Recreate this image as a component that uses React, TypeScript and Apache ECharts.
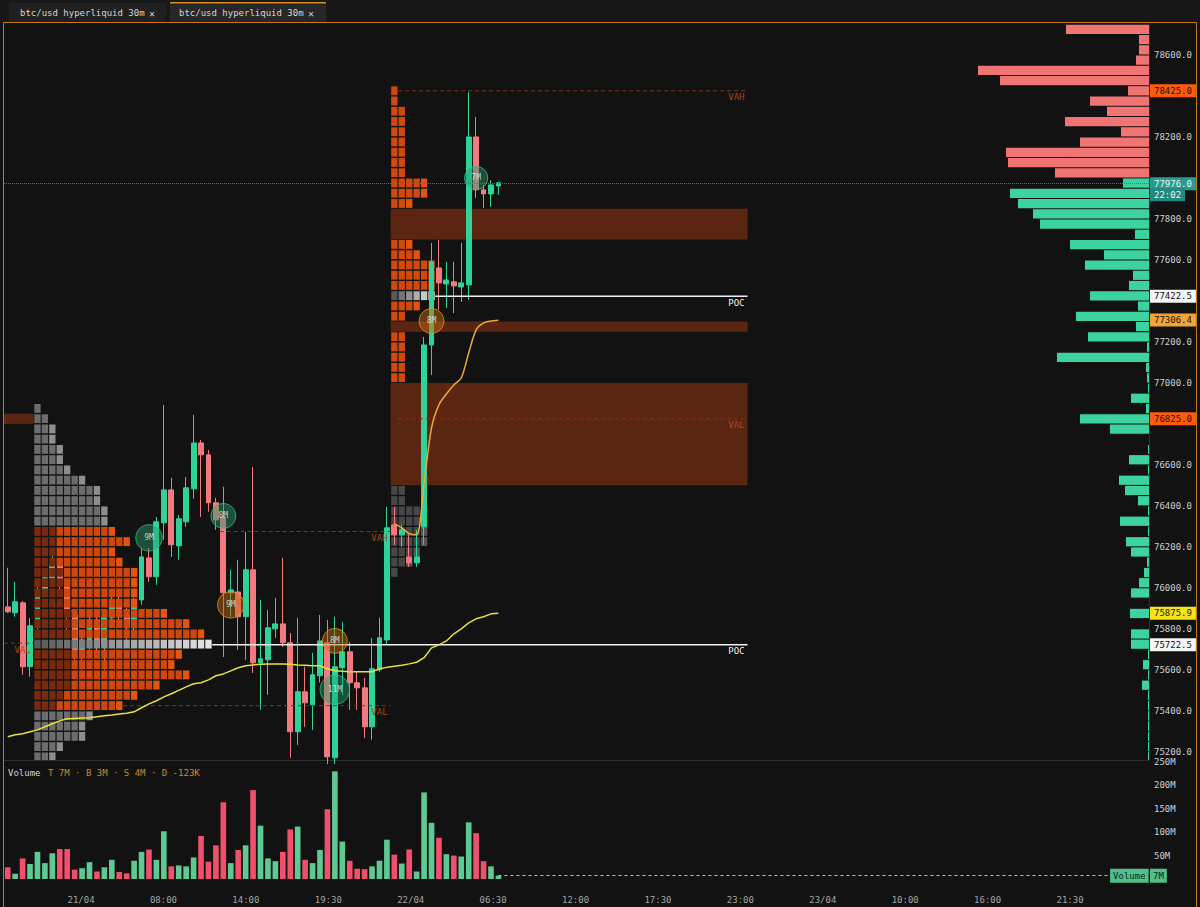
import { useEffect, useRef } from 'react';
import * as echarts from 'echarts';

const FONT = '"DejaVu Sans Mono", "Liberation Mono", monospace';

const SLOT_COUNT = 154;
const PRICE_MIN = 75160;
const PRICE_MAX = 78756;
const ROW_STEP = 50;

// price ticks that are not hidden behind a price tag
const priceTicks = [75200, 75400, 75600, 75800, 76000, 76200, 76400, 76600, 77000, 77200, 77600, 77800, 78200, 78600];

const timeLabels = ['21/04', '08:00', '14:00', '19:30', '22/04', '06:30', '12:00', '17:30', '23:00', '23/04', '10:00', '16:00', '21:30'];
const timeLabelFirstSlot = 9.86;
const timeLabelStep = 11.085;

// [open, close, low, high]
const candles = [
  [75907, 75883, 75878, 76098], [75878, 75932, 75859, 76029], [75927, 75615, 75576, 75935], [75615, 75815, 75566, 75854],
  [75815, 75990, 75800, 76015], [75990, 76049, 75966, 76088], [76049, 76112, 76029, 76161], [76112, 76015, 75990, 76137],
  [76015, 75868, 75780, 76039], [75868, 75698, 75649, 75893], [75698, 75746, 75600, 75795], [75746, 75844, 75698, 75893],
  [75844, 75722, 75673, 75868], [75722, 75854, 75600, 75893], [75854, 75941, 75820, 75966], [75941, 75868, 75844, 75980],
  [75868, 75805, 75746, 75902], [75805, 75941, 75785, 75951], [75941, 76151, 75917, 76195], [76146, 76054, 76029, 76195],
  [76054, 76322, 76015, 76346], [76317, 76478, 76234, 76893], [76478, 76210, 76151, 76537], [76205, 76337, 76137, 76356],
  [76322, 76488, 76298, 76541], [76483, 76707, 76434, 76844], [76707, 76649, 76346, 76722], [76649, 76415, 76371, 76673],
  [76415, 76332, 76283, 76439], [76346, 75976, 75663, 76493], [75976, 75990, 75859, 76088], [75980, 75859, 75698, 76137],
  [75859, 76088, 75649, 76273], [76088, 75634, 75585, 76590], [75634, 75654, 75405, 75941], [75649, 75805, 75478, 75893],
  [75800, 75824, 75756, 75951], [75824, 75732, 75712, 76146], [75732, 75298, 75171, 75780], [75298, 75493, 75234, 75854],
  [75493, 75439, 75322, 75615], [75429, 75576, 75307, 75683], [75571, 75741, 75537, 75868], [75732, 75176, 75140, 75844],
  [75171, 75615, 75140, 75859], [75610, 75688, 75478, 75834], [75688, 75537, 75405, 75737], [75537, 75512, 75405, 75590],
  [75512, 75322, 75268, 75561], [75322, 75605, 75259, 75756], [75600, 75756, 75590, 75854], [75746, 76293, 75722, 76395],
  [76307, 76259, 76210, 76395], [76259, 76283, 76200, 76307], [76151, 76122, 76102, 76259], [76122, 76151, 76102, 76283],
  [76298, 77185, 76210, 77224], [77185, 77590, 77039, 77683], [77561, 77488, 77356, 77698], [77483, 77502, 77366, 77590],
  [77493, 77473, 77341, 77590], [77468, 77488, 77395, 77683], [77478, 78200, 77405, 78420], [78200, 77942, 77902, 78298],
  [77942, 77922, 77854, 77966], [77922, 77966, 77859, 77990], [77961, 77976, 77917, 77981],
];

const volumesM = [
  25, 11, 44, 32, 58, 34, 55, 64, 64, 20, 23, 36, 16, 25, 41, 15, 12, 39, 58, 63,
  41, 102, 27, 29, 27, 46, 92, 37, 72, 164, 34, 62, 72, 190, 114, 44, 38, 58, 106, 112,
  41, 34, 62, 149, 230, 80, 39, 22, 21, 27, 39, 84, 52, 33, 63, 16, 185, 120, 88, 53,
  50, 48, 121, 98, 38, 27, 7,
];

const vwapDay1 = [
  75273, 75283, 75288, 75298, 75307, 75322, 75337, 75351, 75361, 75363, 75365, 75366, 75371, 75376, 75380, 75385,
  75388, 75395, 75415, 75434, 75449, 75468, 75483, 75500, 75517, 75532, 75537, 75551, 75571, 75580, 75595, 75610,
  75620, 75624, 75627, 75629, 75629, 75629, 75627, 75624, 75622, 75620, 75620, 75605, 75595, 75593, 75590, 75590,
  75590, 75590, 75605, 75612, 75617, 75622, 75629, 75637, 75659, 75707, 75722, 75741, 75776, 75800, 75829, 75849,
  75859, 75873, 75876,
];
const vwapDay2Start = 52;
const vwapDay2 = [76312, 76293, 76264, 76259, 76512, 76780, 76893, 76946, 76990, 77024, 77146, 77259, 77293, 77302, 77306];

// volume profile 1 (rows of 50 from the top price downwards)
const profile1Top = 76900;
const profile1StartBar = 4;
const profile1Vah = 76275;
const profile1Val = 75425;
const profile1Poc = 75722.5;
const profile1Counts = [1, 2, 3, 3, 4, 4, 5, 7, 9, 9, 10, 10, 11, 13, 11, 12, 14, 14, 14, 14, 18, 21, 23, 24, 20, 19, 21, 17, 14, 12, 8, 7, 7, 4, 3];

// volume profile 2
const profile2Top = 78450;
const profile2StartBar = 52;
const profile2Vah = 78425;
const profile2Val = 76825;
const profile2Poc = 77422.5;
const profile2Counts = [1, 1, 2, 2, 2, 2, 2, 2, 2, 5, 5, 3, 2, 2, 2, 3, 4, 6, 6, 6, 6, 4, 2, 2, 2, 2, 2, 2, 2, 1, 1, 1, 1, 1, 1, 1, 1, 1, 1, 2, 2, 5, 5, 5, 5, 4, 3, 1];

// zones: [fromBar, toBar, low, high]
const zones = [
  [0, 4, 76800, 76850],
  [52, 100, 77700, 77850],
  [52, 100, 77250, 77300],
  [52, 100, 76500, 77000],
];

// level lines: [fromBar, toBar, price, name]
const levelLines: [number, number, number, string][] = [
  [0, 4, 75730, 'VAL'],
  [28, 100, 75722.5, 'POC'],
  [58, 100, 77422.5, 'POC'],
  [53, 100, 78425, 'VAH'],
  [53, 100, 76825, 'VAL'],
  [29, 52, 76275, 'VAH'],
  [16, 52, 75425, 'VAL'],
];

// big trades: [bar, price, sizeM, side]
const bubbles: [number, number, number, string][] = [
  [19, 76244, 9, 'buy'],
  [29, 76351, 8, 'buy'],
  [30, 75917, 9, 'sell'],
  [44, 75741, 8, 'sell'],
  [44, 75503, 11, 'buy'],
  [57, 77302, 8, 'sell'],
  [63, 78000, 7, 'buy'],
];

// session volume profile on the right, rows of 50 from 78750 downward
const rightProfileTop = 78750;
const rightProfileVol = [
  83, 10, 10, 13, 171, 149, 21, 59, 42, 84, 28, 69, 143, 141, 94,
  26, 139, 131, 116, 109, 14, 79, 45, 64, 16, 20, 59, 11, 73, 13, 61, 2, 92, 3, 2,
  1, 18, 3, 69, 39, 0, 1, 20, 1, 30, 24, 11, 1, 29, 1, 23, 18, 2, 5, 10,
  18, 0, 19, 0, 18, 18, 1, 6, 1, 7, 1, 1, 1, 1, 1, 1, 1,
];
const RIGHT_PROFILE_AXIS_MAX = 1145;

const lastPrice = 77976;
const countdown = '22:02';
// [price, kind]
const priceTags: [number, string][] = [
  [78425, 'va'],
  [77422.5, 'poc'],
  [77306.4, 'vwap2'],
  [76825, 'va'],
  [75875.9, 'vwap1'],
  [75722.5, 'poc'],
];

const volumeSummary = 'T 7M · B 3M · S 4M · D -123K';
const lastVolumeM = 7;
const tabTitles = ['btc/usd hyperliquid 30m', 'btc/usd hyperliquid 30m'];

const TAG_STYLE: Record<string, { bg: string; fg: string }> = {
  va: { bg: '#ff5b0f', fg: '#2a1000' },
  poc: { bg: '#f4f4f4', fg: '#111111' },
  vwap2: { bg: '#f2a43a', fg: '#1e1200' },
  vwap1: { bg: '#f3e21c', fg: '#1e1a00' },
};

const UP = '#2ed39a';
const DOWN = '#f27a7e';
const CLEAR = 'rgba(0,0,0,0)';

function mixColor(a: string, b: string, t: number) {
  const pa = [1, 3, 5].map((i) => parseInt(a.slice(i, i + 2), 16));
  const pb = [1, 3, 5].map((i) => parseInt(b.slice(i, i + 2), 16));
  const c = pa.map((v, k) => Math.round(v + (pb[k] - v) * t));
  return `rgb(${c[0]},${c[1]},${c[2]})`;
}

type ProfilePalette = { va: string; vaDark: string; vaEdge: string; out: string; outEdge: string; darkFrac: number };

function profileSquares(counts: number[], top: number, startBar: number, vah: number, val: number, poc: number, pal: ProfilePalette) {
  const out: any[] = [];
  counts.forEach((n, r) => {
    const hi = top - r * ROW_STEP;
    const lo = hi - ROW_STEP;
    const mid = hi - ROW_STEP / 2;
    const isPoc = poc >= lo && poc < hi;
    const inVa = mid <= vah + ROW_STEP / 2 && mid >= val - ROW_STEP / 2;
    const dark = Math.min(5, Math.floor(n * pal.darkFrac));
    for (let c = 0; c < n; c++) {
      let color: string;
      if (isPoc) color = mixColor('#5a5a5a', '#e4e4e4', n > 1 ? c / (n - 1) : 1);
      else if (inVa) color = c === n - 1 && n > 2 ? pal.vaEdge : c < dark ? pal.vaDark : pal.va;
      else color = c === n - 1 && n > 2 ? pal.outEdge : pal.out;
      out.push({ value: [startBar + c, hi], itemStyle: { color } });
    }
  });
  return out;
}

const squareRender = (params: any, api: any) => {
  const bw = api.size([1, 0])[0];
  const rh = api.size([0, ROW_STEP])[1];
  const p = api.coord([api.value(0), api.value(1)]);
  const w = bw - 1.1;
  const rect = echarts.graphic.clipRectByRect(
    { x: p[0] - w / 2, y: p[1] + 0.6, width: w, height: rh - 1.4 },
    params.coordSys
  );
  if (!rect) return null;
  return { type: 'rect', shape: rect, style: { fill: api.visual('color') }, silent: true };
};

function buildOption() {
  const slots = Array.from({ length: SLOT_COUNT }, (_, i) => String(i));
  const vwap2Full = candles.map((_, i) => (i >= vwapDay2Start ? vwapDay2[i - vwapDay2Start] : null));

  const sq1 = profileSquares(profile1Counts, profile1Top, profile1StartBar, profile1Vah, profile1Val, profile1Poc, {
    va: '#cf470e', vaDark: '#7a2a0c', vaEdge: '#e6540f', out: '#6c6c6c', outEdge: '#8e8e8e', darkFrac: 0.3,
  });
  const sq2 = profileSquares(profile2Counts, profile2Top, profile2StartBar, profile2Vah, profile2Val, profile2Poc, {
    va: '#d2480d', vaDark: '#b83e0c', vaEdge: '#e4530f', out: '#474747', outEdge: '#555555', darkFrac: 0.0,
  });

  const labelFont = { fontFamily: FONT, fontSize: 9 };

  return {
    animation: false,
    backgroundColor: '#121212',
    grid: [
      { left: 4, right: 51, top: 23, height: 737, outerBoundsMode: 'none', containLabel: false },
      { left: 4, right: 51, top: 762, height: 117, outerBoundsMode: 'none', containLabel: false },
    ],
    xAxis: [
      {
        type: 'category', gridIndex: 0, data: slots, boundaryGap: true,
        axisLine: { show: true, lineStyle: { color: '#2e2e2e' } }, axisTick: { show: false }, axisLabel: { show: false }, splitLine: { show: false },
      },
      {
        type: 'category', gridIndex: 1, data: slots, boundaryGap: true, position: 'top',
        axisLine: { show: false }, axisTick: { show: false }, axisLabel: { show: false }, splitLine: { show: false },
      },
      {
        type: 'value', gridIndex: 0, inverse: true, min: 0, max: RIGHT_PROFILE_AXIS_MAX, position: 'top', show: false,
      },
      {
        type: 'value', gridIndex: 1, min: -0.5, max: SLOT_COUNT - 0.5, position: 'bottom',
        axisLine: { show: false }, axisTick: { show: false }, splitLine: { show: false },
        axisLabel: {
          color: '#a4a4a4', ...labelFont, margin: 16,
          customValues: timeLabels.map((_, k) => timeLabelFirstSlot + k * timeLabelStep),
          formatter: (v: number) => timeLabels[Math.round((v - timeLabelFirstSlot) / timeLabelStep)] ?? '',
        },
      },
    ],
    yAxis: [
      {
        type: 'value', gridIndex: 0, position: 'right', min: PRICE_MIN, max: PRICE_MAX,
        axisLine: { show: true, lineStyle: { color: '#2e2e2e' } }, axisTick: { show: false }, splitLine: { show: false },
        axisLabel: { color: '#cfcfcf', ...labelFont, margin: 5, customValues: priceTicks, formatter: (v: number) => v.toFixed(1) },
      },
      {
        type: 'value', gridIndex: 1, position: 'right', min: 0, max: 250, interval: 50,
        axisLine: { show: false }, axisTick: { show: false }, splitLine: { show: false },
        axisLabel: { color: '#cfcfcf', ...labelFont, margin: 5, formatter: (v: number) => (v === 0 ? '' : v + 'M') },
      },
    ],
    graphic: [
      { type: 'rect', left: 0, top: 0, shape: { width: 1200, height: 22 }, style: { fill: '#171717' }, z: 100 },
      { type: 'rect', shape: { x: 9, y: 3, width: 157, height: 19 }, style: { fill: '#202020' }, z: 101 },
      { type: 'text', x: 20, y: 13, style: { text: tabTitles[0], fill: '#d6d6d6', font: `9px ${FONT}`, verticalAlign: 'middle' }, z: 102 },
      { type: 'text', x: 152, y: 13, style: { text: '✕', fill: '#cfcfcf', font: `10px ${FONT}`, align: 'center', verticalAlign: 'middle' }, z: 102 },
      { type: 'rect', shape: { x: 170, y: 2, width: 156, height: 20 }, style: { fill: '#272727' }, z: 101 },
      { type: 'rect', shape: { x: 170, y: 2, width: 156, height: 1.5 }, style: { fill: '#d98a26' }, z: 102 },
      { type: 'text', x: 179, y: 13, style: { text: tabTitles[1], fill: '#d6d6d6', font: `9px ${FONT}`, verticalAlign: 'middle' }, z: 102 },
      { type: 'text', x: 311, y: 13, style: { text: '✕', fill: '#cfcfcf', font: `10px ${FONT}`, align: 'center', verticalAlign: 'middle' }, z: 102 },
      { type: 'rect', shape: { x: 3.5, y: 22.5, width: 1193, height: 890 }, style: { fill: 'none', stroke: '#c27a22', lineWidth: 1 }, z: 103, silent: true },
      { type: 'text', x: 8, y: 773, style: { text: 'Volume', fill: '#d2d2d2', font: `9px ${FONT}`, verticalAlign: 'middle' }, z: 100 },
      { type: 'text', x: 48, y: 773, style: { text: volumeSummary, fill: '#d3882a', font: `9px ${FONT}`, verticalAlign: 'middle' }, z: 100 },
    ],
    series: [
      {
        name: 'profile2', type: 'custom', xAxisIndex: 0, yAxisIndex: 0, z: 1, silent: true,
        renderItem: squareRender, data: sq2,
      },
      {
        name: 'zones', type: 'custom', xAxisIndex: 0, yAxisIndex: 0, z: 2, silent: true,
        data: zones.map((z) => [z[0], z[3], z[1], z[2]]),
        renderItem: (params: any, api: any) => {
          const bw = api.size([1, 0])[0];
          const p1 = api.coord([api.value(0), api.value(1)]);
          const p2 = api.coord([api.value(2), api.value(3)]);
          return {
            type: 'rect',
            shape: { x: p1[0] - bw / 2, y: p1[1], width: p2[0] - p1[0], height: p2[1] - p1[1] },
            style: { fill: '#5b2611' }, silent: true,
          };
        },
      },
      {
        name: 'rightProfile', type: 'custom', xAxisIndex: 2, yAxisIndex: 0, z: 3, silent: true,
        data: rightProfileVol.map((v, i) => [v, rightProfileTop - (i + 1) * ROW_STEP]),
        renderItem: (params: any, api: any) => {
          const vol = api.value(0);
          const lo = api.value(1);
          if (!vol) return null;
          const a = api.coord([0, lo + ROW_STEP]);
          const b = api.coord([vol, lo]);
          const rect = echarts.graphic.clipRectByRect(
            { x: b[0], y: a[1] + 0.5, width: a[0] - b[0], height: b[1] - a[1] - 1 },
            params.coordSys
          );
          if (!rect) return null;
          return { type: 'rect', shape: rect, style: { fill: lo >= lastPrice ? '#f07474' : '#3dd3a0' }, silent: true };
        },
      },
      {
        name: 'BTC', type: 'candlestick', xAxisIndex: 0, yAxisIndex: 0, z: 3, barWidth: '72%',
        data: candles,
        itemStyle: { color: UP, color0: DOWN, borderColor: UP, borderColor0: DOWN, borderWidth: 1 },
        markLine: {
          silent: true, symbol: ['none', 'none'], animation: false,
          data: [
            {
              yAxis: lastPrice,
              lineStyle: { color: '#1f8a7c', type: 'dotted', width: 1 },
              label: {
                show: true, position: 'end', distance: 1, opacity: 1,
                formatter: `{e| }\n{a|${lastPrice.toFixed(1)}}\n{b|${countdown}}`,
                rich: {
                  e: { height: 13, lineHeight: 13, color: CLEAR, fontSize: 9 },
                  a: { backgroundColor: '#279c90', color: '#e9f5f2', padding: [1, 4, 1, 4], lineHeight: 11, height: 11, ...labelFont },
                  b: { backgroundColor: '#23897f', color: '#e9f5f2', padding: [1, 4, 1, 4], lineHeight: 11, height: 11, ...labelFont },
                },
              },
            },
          ],
        },
      },
      {
        name: 'profile1', type: 'custom', xAxisIndex: 0, yAxisIndex: 0, z: 4, silent: true,
        renderItem: squareRender, data: sq1,
      },
      {
        name: 'levels', type: 'custom', xAxisIndex: 0, yAxisIndex: 0, z: 5, silent: true,
        data: levelLines.map((l) => [l[0], l[2], l[1]]),
        renderItem: (params: any, api: any) => {
          const l = levelLines[params.dataIndex];
          const bw = api.size([1, 0])[0];
          const s = api.coord([api.value(0), api.value(1)]);
          const e = api.coord([api.value(2), api.value(1)]);
          const x1 = s[0] - bw / 2;
          const x2 = e[0] - bw / 2;
          const y = s[1];
          const isPoc = l[3] === 'POC';
          return {
            type: 'group',
            children: [
              {
                type: 'line', shape: { x1, y1: y, x2, y2: y },
                style: isPoc ? { stroke: '#f0f0f0', lineWidth: 1.6 } : { stroke: '#83341a', lineWidth: 1, lineDash: [4, 3] },
              },
              {
                type: 'text', x: x2 - 3, y: y + 2,
                style: { text: l[3], fill: isPoc ? '#f0f0f0' : '#a8461c', font: `9px ${FONT}`, align: 'right', verticalAlign: 'top' },
              },
            ],
          };
        },
      },
      {
        name: 'VWAP', type: 'line', xAxisIndex: 0, yAxisIndex: 0, z: 6, data: vwapDay1, showSymbol: false, silent: true,
        lineStyle: { color: '#e6e23e', width: 1.5 },
        markLine: {
          silent: true, symbol: ['none', 'none'], animation: false,
          data: priceTags.map(([p, kind]) => ({
            yAxis: p,
            lineStyle: { color: CLEAR, width: 0 },
            label: {
              show: true, position: 'end', distance: 1, formatter: p.toFixed(1), opacity: 1,
              backgroundColor: TAG_STYLE[kind].bg, color: TAG_STYLE[kind].fg, padding: [1, 4, 1, 4], lineHeight: 11, ...labelFont,
            },
          })),
        },
      },
      {
        name: 'VWAP 2', type: 'line', xAxisIndex: 0, yAxisIndex: 0, z: 6, data: vwap2Full, showSymbol: false, silent: true,
        connectNulls: false, smooth: 0.3, lineStyle: { color: '#f0a83a', width: 1.5 },
      },
      {
        name: 'trades', type: 'scatter', xAxisIndex: 0, yAxisIndex: 0, z: 7, silent: true,
        data: bubbles.map((b) => ({
          value: [b[0], b[1], b[2]],
          itemStyle: b[3] === 'buy'
            ? { color: 'rgba(38,160,112,0.55)', borderColor: '#34c08e', borderWidth: 1 }
            : { color: 'rgba(196,104,18,0.6)', borderColor: '#e8921e', borderWidth: 1 },
        })),
        symbolSize: (v: number[]) => 12 + 1.6 * v[2],
        label: { show: true, position: 'inside', formatter: (p: any) => p.value[2] + 'M', color: '#f0f0f0', fontSize: 8, fontFamily: FONT },
      },
      {
        name: 'Volume', type: 'bar', xAxisIndex: 1, yAxisIndex: 1, barWidth: '76%',
        data: volumesM.map((v, i) => ({ value: v, itemStyle: { color: candles[i][1] >= candles[i][0] ? '#5ec993' : '#f0506c' } })),
        markLine: {
          silent: true, symbol: ['none', 'none'], animation: false,
          data: [
            [
              { coord: [candles.length - 1, lastVolumeM], lineStyle: { color: '#bdbdbd', type: [3, 3], width: 1 } },
              {
                coord: [148, lastVolumeM],
                label: {
                  show: true, position: 'end', distance: 2, formatter: 'Volume', opacity: 1,
                  backgroundColor: '#4fc08b', color: '#0f1f17', padding: [2, 3, 1, 3], lineHeight: 11, ...labelFont,
                },
              },
            ],
            {
              yAxis: lastVolumeM, lineStyle: { color: CLEAR, width: 0 },
              label: {
                show: true, position: 'end', distance: 1, formatter: lastVolumeM + 'M', opacity: 1,
                backgroundColor: '#4fc08b', color: '#0f1f17', padding: [2, 3, 1, 3], lineHeight: 11, ...labelFont,
              },
            },
          ],
        },
      },
    ],
  };
}

export default function App() {
  const ref = useRef<HTMLDivElement>(null);
  useEffect(() => {
    const chart = echarts.init(ref.current!, null, { renderer: 'svg' });
    chart.setOption(buildOption() as any);
    return () => chart.dispose();
  }, []);
  return (
    <div
      ref={ref}
      style={{ position: 'absolute', left: 0, top: 0, width: 1200, height: 907, background: '#121212' }}
    />
  );
}
